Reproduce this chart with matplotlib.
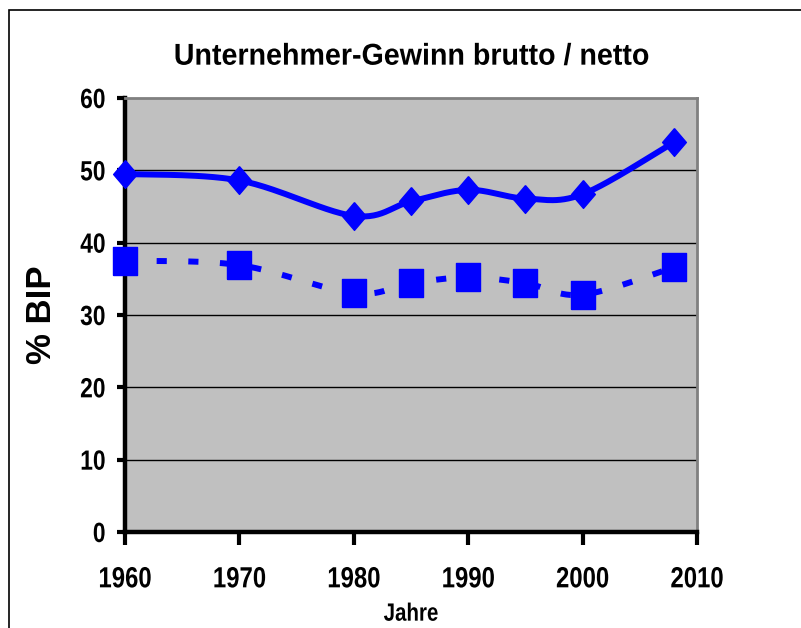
import numpy as np
import matplotlib.pyplot as plt
from matplotlib.patches import Rectangle
from matplotlib.patheffects import AbstractPathEffect
from matplotlib.transforms import Affine2D

# data
years = [1960, 1970, 1980, 1985, 1990, 1995, 2000, 2008]
brutto = [49.5, 48.6, 43.7, 45.7, 47.3, 46.1, 46.7, 53.9]
netto = [37.5, 36.9, 33.0, 34.4, 35.2, 34.4, 32.8, 36.6]
xticks = [1960, 1970, 1980, 1990, 2000, 2010]
yticks = [0, 10, 20, 30, 40, 50, 60]

plt.rcParams['font.family'] = ['Liberation Sans', 'DejaVu Sans']
plt.rcParams['font.weight'] = 'bold'

blue = '#0000FF'


class Narrow(AbstractPathEffect):
    # squeeze a text horizontally around an anchor (the original uses a condensed look)
    def __init__(self, text, sx, anchor=0.5):
        super().__init__()
        self.text, self.sx, self.anchor = text, sx, anchor

    def draw_path(self, renderer, gc, tpath, affine, rgbFace=None):
        bb = self.text.get_window_extent(renderer)
        cx = bb.x0 + self.anchor * bb.width
        tr = affine + Affine2D().translate(-cx, 0).scale(self.sx, 1).translate(cx, 0)
        renderer.draw_path(gc, tpath, tr, rgbFace)


def narrow(text, sx, anchor=0.5):
    text.set_path_effects([Narrow(text, sx, anchor)])


def smooth(xs, ys, sx=572 / 50, sy=434 / 60, n=30):
    # excel-like smoothed line (bezier through catmull-rom control points), in pixel space
    p = np.column_stack([(np.array(xs) - xs[0]) * sx, np.array(ys) * sy])
    p = np.vstack([p[0], p, p[-1]])
    out = []
    t = np.linspace(0, 1, n)[:, None]
    for i in range(1, len(p) - 2):
        p0, p1, p2, p3 = p[i - 1], p[i], p[i + 1], p[i + 2]
        c1 = p1 + (p2 - p0) / 6
        c2 = p2 - (p3 - p1) / 6
        seg = (1 - t) ** 3 * p1 + 3 * (1 - t) ** 2 * t * c1 + 3 * (1 - t) * t ** 2 * c2 + t ** 3 * p2
        out.append(seg)
    out = np.vstack(out)
    return out[:, 0] / sx + xs[0], out[:, 1] / sy


fig = plt.figure(figsize=(8.01, 6.28), dpi=100)
fig.patch.set_facecolor('white')
fig.patches.append(Rectangle((9 / 801, -0.1), 1.2, 1.1 - 10 / 628, transform=fig.transFigure,
                             fill=False, edgecolor='black', linewidth=1.2))

ax = fig.add_axes([125 / 801, 1 - 532 / 628, 572 / 801, 434 / 628])
ax.set_facecolor('#C0C0C0')
ax.set_xlim(1960, 2010)
ax.set_ylim(0, 60)

for v in yticks[1:-1]:
    ax.axhline(v, color='black', linewidth=1, zorder=1)

diamond = [(0, 1.17), (1, 0), (0, -1.17), (-1, 0), (0, 1.17)]
box = [(-1, -1.17), (1, -1.17), (1, 1.17), (-1, 1.17), (-1, -1.17)]

bx, by = smooth(years, brutto)
ax.plot(bx, by, color=blue, linewidth=4.3, solid_capstyle='round', zorder=3, clip_on=False)
ax.plot(years, brutto, linestyle='none', marker=diamond, markersize=20, color=blue,
        zorder=4, clip_on=False)

nx, ny = smooth(years, netto)
ax.plot(nx, ny, color=blue, linewidth=4.3, dashes=(1.7, 3.6), dash_capstyle='butt',
        zorder=3, clip_on=False)
ax.plot(years, netto, linestyle='none', marker=box, markersize=19.5, color=blue,
        zorder=4, clip_on=False)

for s in ['top', 'right']:
    ax.spines[s].set_color('#808080')
    ax.spines[s].set_linewidth(2)
for s in ['left', 'bottom']:
    ax.spines[s].set_color('black')
    ax.spines[s].set_linewidth(3.2)

ax.set_xticks(xticks)
ax.set_yticks(yticks)
ax.tick_params(axis='x', direction='out', length=9, width=3, pad=15, labelsize=21)
ax.tick_params(axis='y', direction='out', length=6, width=3, pad=8, labelsize=20)
for lab in ax.get_xticklabels():
    lab.set_fontweight('bold')
    narrow(lab, 0.82)
for lab in ax.get_yticklabels():
    lab.set_fontweight('bold')
    narrow(lab, 0.82, anchor=1.0)

title = ax.set_title('Unternehmer-Gewinn brutto / netto', fontsize=21.7, fontweight='bold', pad=24)
narrow(title, 0.95)
ax.set_ylabel('% BIP', fontsize=25, fontweight='bold', labelpad=12)
xl = ax.set_xlabel('Jahre', fontsize=18, fontweight='bold', labelpad=6)
narrow(xl, 0.82)

fig.savefig('out.png', dpi=100)
